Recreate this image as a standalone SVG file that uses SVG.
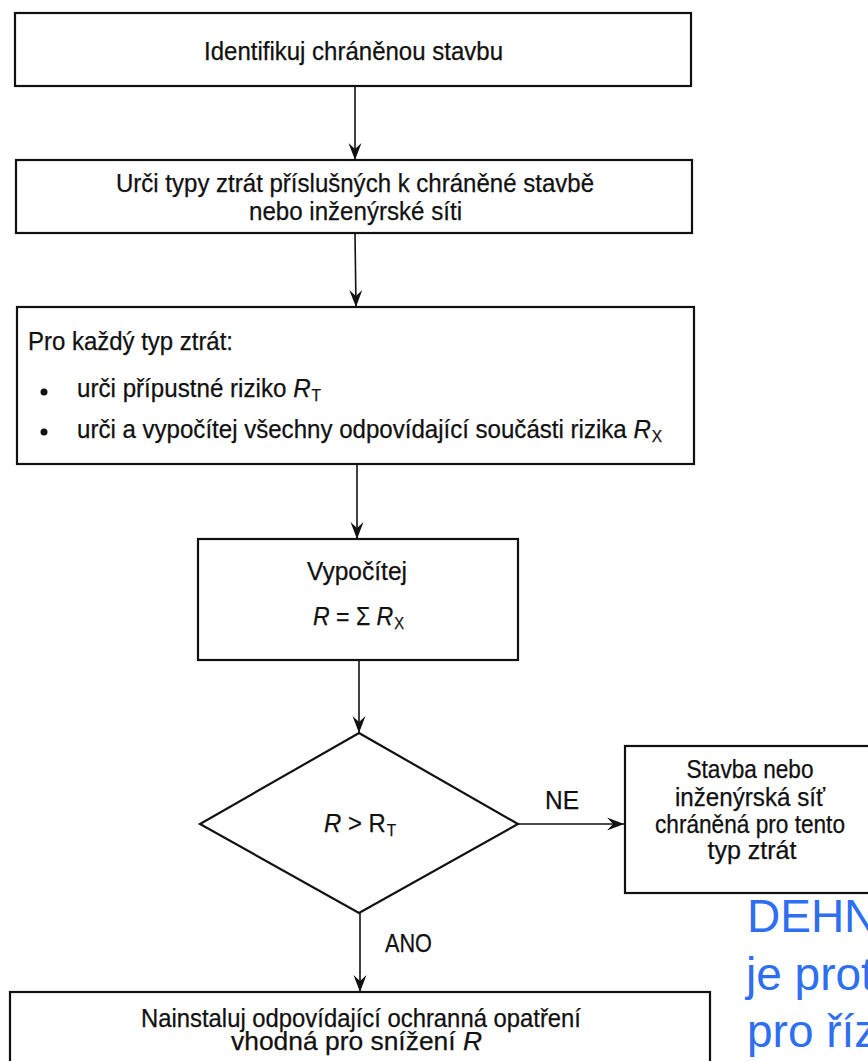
<svg xmlns="http://www.w3.org/2000/svg" width="868" height="1061" viewBox="0 0 868 1061">
<style>
.box{fill:#fff;stroke:#111;stroke-width:2.2}
.t{font-family:"Liberation Sans",Arial,sans-serif;font-size:25px;fill:#111;stroke:#111;stroke-width:0.25}
.c{text-anchor:middle}
.i{font-style:italic}
.sub{font-size:16px}
.con{stroke:#111;stroke-width:1.6;fill:none;marker-end:url(#ah)}
.blue{font-family:"Liberation Sans",Arial,sans-serif;font-size:46px;fill:#2d6ff0}
</style>
<defs>
<marker id="ah" markerUnits="userSpaceOnUse" markerWidth="20" markerHeight="20" viewBox="-18 -8 20 16" refX="0" refY="0" orient="auto">
<path d="M0,0 L-17,-6.5 L-11,0 L-17,6.5 Z" fill="#111"/>
</marker>
</defs>
<rect width="868" height="1061" fill="#fff"/>
<g id="connectors">
<path class="con" d="M355,87 L355,160"/>
<path class="con" d="M355,233 L356,307"/>
<path class="con" d="M357,464 L357,539"/>
<path class="con" d="M359,660 L359,733"/>
<path class="con" d="M518,824 L624,824"/>
<path class="con" d="M360,913 L360,992"/>
<text class="t" x="545" y="809" font-size="23" textLength="34" lengthAdjust="spacingAndGlyphs">NE</text>
<text class="t" x="385" y="952" font-size="22" textLength="47" lengthAdjust="spacingAndGlyphs">ANO</text>
</g>
<g id="n1">
<rect class="box" x="15" y="13" width="676" height="73"/>
<text class="t" x="204" y="60" textLength="299" lengthAdjust="spacingAndGlyphs">Identifikuj chráněnou stavbu</text>
</g>
<g id="n2">
<rect class="box" x="16" y="160" width="676" height="73"/>
<text class="t" x="116" y="192" textLength="478" lengthAdjust="spacingAndGlyphs">Urči typy ztrát příslušných k chráněné stavbě</text>
<text class="t" x="249" y="220" textLength="213" lengthAdjust="spacingAndGlyphs">nebo inženýrské síti</text>
</g>
<g id="n3">
<rect class="box" x="17" y="307" width="677" height="157"/>
<text class="t" x="28" y="350" textLength="205" lengthAdjust="spacingAndGlyphs">Pro každý typ ztrát:</text>
<circle cx="44" cy="392" r="3.5" fill="#111"/>
<text class="t" x="77" y="397" textLength="244" lengthAdjust="spacingAndGlyphs">urči přípustné riziko <tspan class="i">R</tspan><tspan class="sub" dx="1" dy="4">T</tspan></text>
<circle cx="44" cy="432" r="3.5" fill="#111"/>
<text class="t" x="77" y="438" textLength="585" lengthAdjust="spacingAndGlyphs">urči a vypočítej všechny odpovídající součásti rizika <tspan class="i">R</tspan><tspan class="sub" dx="1" dy="4">X</tspan></text>
</g>
<g id="n4">
<rect class="box" x="198" y="539" width="320" height="121"/>
<text class="t" x="307" y="580" textLength="100" lengthAdjust="spacingAndGlyphs">Vypočítej</text>
<text class="t" x="313" y="625" textLength="91" lengthAdjust="spacingAndGlyphs"><tspan class="i">R</tspan> = Σ <tspan class="i">R</tspan><tspan class="sub" dx="1" dy="4">X</tspan></text>
</g>
<g id="n5">
<path class="box" d="M359,733 L518,824 L359,913 L200,824 Z"/>
<text class="t" x="324" y="832" textLength="72" lengthAdjust="spacingAndGlyphs"><tspan class="i">R</tspan> &gt; R<tspan class="sub" dx="1" dy="4">T</tspan></text>
</g>
<g id="n6">
<rect class="box" x="625" y="746" width="255" height="147"/>
<text class="t c" x="750" y="778" font-size="24" textLength="127" lengthAdjust="spacingAndGlyphs">Stavba nebo</text>
<text class="t c" x="750" y="806" font-size="24" textLength="150" lengthAdjust="spacingAndGlyphs">inženýrská síť</text>
<text class="t c" x="750" y="833" font-size="24" textLength="190" lengthAdjust="spacingAndGlyphs">chráněná pro tento</text>
<text class="t c" x="752" y="859" font-size="24">typ ztrát</text>
</g>
<g id="n7">
<rect class="box" x="10" y="992" width="700" height="90"/>
<text class="t" x="141" y="1027" font-size="20" textLength="440" lengthAdjust="spacingAndGlyphs">Nainstaluj odpovídající ochranná opatření</text>
<text class="t" x="231" y="1050" font-size="20" textLength="251" lengthAdjust="spacingAndGlyphs">vhodná pro snížení <tspan class="i">R</tspan></text>
</g>
<g id="note">
<text class="blue" x="747" y="932">DEHN</text>
<text class="blue" x="746" y="990">je prot</text>
<text class="blue" x="747" y="1047">pro říz</text>
</g>
</svg>
